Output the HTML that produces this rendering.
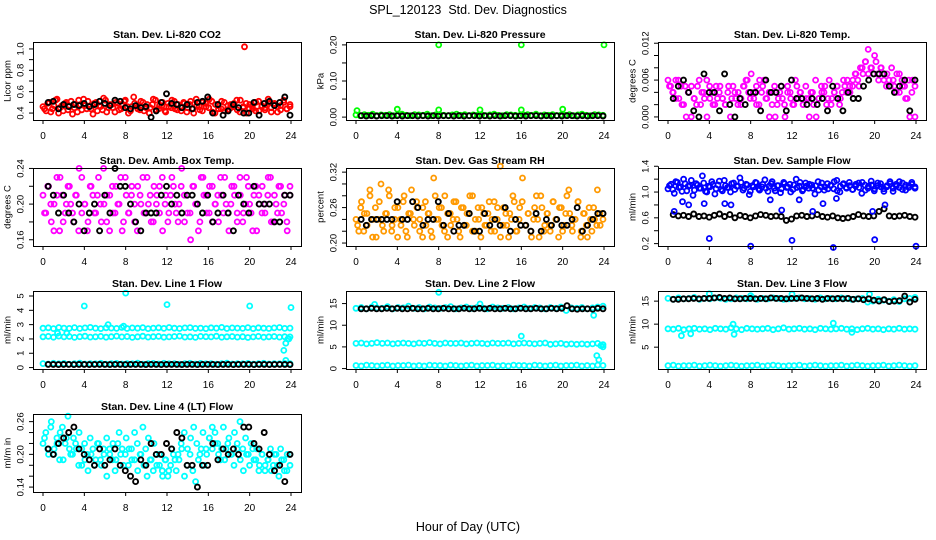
<!DOCTYPE html>
<html><head><meta charset="utf-8"><style>
html,body{margin:0;padding:0;background:#fff;}
svg{display:block;font-family:"Liberation Sans",Arial,sans-serif;}
</style></head><body>
<svg id="chart" width="936" height="540" viewBox="0 0 936 540">
<rect width="936" height="540" fill="#fff"/>
<text x="468" y="14" text-anchor="middle" font-size="12.5" style="white-space:pre">SPL_120123&#160; Std. Dev. Diagnostics</text>
<text x="468" y="531" text-anchor="middle" font-size="12.5">Hour of Day (UTC)</text>
</svg>
<script>
// ---- data ----
const hourTicks = [0,4,8,12,16,20,24];

const co2Red = [0.46,0.42,0.50,0.44,0.52,0.40,0.47,0.49,0.43,0.51,0.45,0.41,0.48,0.53,0.44,0.46,0.39,0.50,0.47,0.43,0.52,0.45,0.48,0.41,0.49,0.44,0.51,0.46,0.42,0.55,0.47,0.43,0.50,0.45,0.40,0.48,0.52,0.44,0.47,0.42,0.49,0.45,0.51,0.43,0.46,0.50,0.41,0.48,0.44,0.53,0.46,0.42,0.49,0.45,0.51,0.40,0.47,0.44,0.50,0.43,0.48,0.46,0.52,0.41,0.45,0.49,0.44,0.47,0.42,0.51,0.46,0.43,0.50,0.45,0.48,0.41,0.47,0.52,0.44,0.46];
const co2Red2 = [0.44,0.49,0.41,0.47,0.53,0.45,0.42,0.50,0.46,0.39,0.48,0.52,0.43,0.47,0.51,0.44,0.49,0.42,0.46,0.54,0.41,0.48,0.45,0.50,0.43,0.47,0.52,0.40,0.46,0.49,0.44,0.51,0.42,0.48,0.45,0.53,0.43,0.47,0.50,0.41,0.46,0.52,0.44,0.48,0.42,0.49,0.45,0.51,0.40,0.47,0.43,0.50,0.46,0.53,0.41,0.48,0.44,0.51,0.42,0.47,0.45,0.49,0.43,0.52,0.46,0.40,0.48,0.44,0.50,0.42,0.47,0.45,0.53,0.41,0.49,0.46,0.43,0.50,0.44,0.48];
const co2Black = [0.50,0.51,0.44,0.48,0.46,0.48,0.47,0.49,0.46,0.48,0.51,0.49,0.47,0.52,0.51,0.45,0.44,0.47,0.45,0.46,0.36,0.42,0.50,0.58,0.49,0.48,0.45,0.48,0.44,0.50,0.51,0.55,0.40,0.48,0.38,0.42,0.48,0.45,0.40,0.40,0.50,0.38,0.49,0.51,0.47,0.50,0.55,0.38];
const co2OutT = [19.5];
const co2OutV = [1.02];

const presGreen = [0.006,0.004,0.007,0.005,0.008,0.004,0.006,0.005,0.007,0.004,0.006,0.008,0.005,0.004,0.007,0.006,0.005,0.008,0.004,0.006,0.007,0.005,0.004,0.006,0.008,0.005,0.007,0.004,0.006,0.005,0.007,0.004,0.006,0.008,0.005,0.004,0.007,0.006,0.005,0.004,0.006,0.007,0.005,0.008,0.004,0.006,0.005,0.007,0.004,0.006,0.005,0.007,0.004,0.006,0.008,0.005,0.004,0.007,0.006,0.005];
const presBlack = [0.004,0.003,0.004,0.003,0.004,0.004,0.003,0.004,0.003,0.004,0.004,0.003,0.004,0.003,0.004,0.003,0.004,0.004,0.003,0.004,0.003,0.004,0.004,0.003,0.004,0.003,0.004,0.003,0.004,0.004,0.003,0.004,0.003,0.004,0.004,0.003,0.004,0.003,0.004,0.003,0.004,0.004,0.003,0.004,0.003,0.004,0.004,0.003];
const presSpikeT = [0.1,4,8,12,16,20,8,16,24];
const presSpikeV = [0.018,0.022,0.020,0.020,0.020,0.022,0.200,0.200,0.200];

const tempMag = [0.006,0.005,0.004,0.003,0.006,0.005,0.002,0.000,0.004,0.005,0.003,0.002,0.006,0.004,0.003,0.000,0.005,0.004,0.002,0.003,0.005,0.003,0.002,0.004,0.000,0.005,0.003,0.004,0.002,0.005,0.006,0.004,0.007,0.003,0.005,0.002,0.004,0.006,0.003,0.000,0.004,0.005,0.002,0.004,0.003,0.000,0.005,0.004,0.002,0.006,0.003,0.004,0.002,0.005,0.003,0.004,0.002,0.000,0.003,0.005,0.004,0.002,0.006,0.003,0.004,0.005,0.002,0.004,0.005,0.006,0.004,0.005,0.007,0.006,0.008,0.007,0.009,0.011,0.008,0.007,0.009,0.006,0.008,0.007,0.005,0.006,0.008,0.005,0.007,0.004,0.006,0.005,0.003,0.000,0.006,0.005];
const tempMag2 = [0.005,0.004,0.006,0.003,0.002,0.005,0.004,0.000,0.003,0.005,0.002,0.004,0.006,0.003,0.002,0.005,0.004,0.003,0.002,0.005,0.003,0.004,0.002,0.003,0.005,0.006,0.003,0.004,0.002,0.006,0.005,0.003,0.004,0.002,0.000,0.003,0.005,0.002,0.004,0.003,0.002,0.005,0.004,0.002,0.003,0.000,0.004,0.006,0.003,0.004,0.005,0.003,0.002,0.004,0.005,0.003,0.006,0.004,0.005,0.006,0.007,0.005,0.008,0.009,0.007,0.008,0.010,0.007,0.008,0.006,0.007,0.005,0.006,0.004,0.007,0.005,0.003,0.006,0.004,0.000];
const tempBlack = [0.003,0.005,0.006,0.004,0.001,0.000,0.007,0.004,0.004,0.001,0.007,0.002,0.000,0.003,0.002,0.004,0.004,0.001,0.006,0.004,0.004,0.005,0.001,0.006,0.003,0.003,0.002,0.003,0.002,0.003,0.001,0.005,0.003,0.001,0.004,0.003,0.003,0.005,0.006,0.007,0.007,0.007,0.005,0.004,0.005,0.006,0.001,0.006];

const ambMag = [0.21,0.19,0.22,0.18,0.20,0.23,0.17,0.21,0.19,0.22,0.20,0.18,0.21,0.24,0.19,0.20,0.17,0.22,0.21,0.19,0.23,0.18,0.20,0.21,0.17,0.22,0.19,0.20,0.23,0.18,0.21,0.19,0.22,0.20,0.17,0.21,0.23,0.19,0.20,0.18,0.22,0.21,0.19,0.23,0.20,0.18,0.21,0.22,0.19,0.20,0.24,0.18,0.21,0.19,0.22,0.20,0.17,0.23,0.21,0.19,0.22,0.18,0.20,0.21,0.23,0.19,0.20,0.17,0.22,0.21,0.19,0.23,0.18,0.20,0.22,0.19,0.21,0.17,0.20,0.22,0.19,0.21,0.23,0.18,0.20,0.22,0.19,0.21,0.17,0.22];
const ambMag2 = [0.19,0.22,0.20,0.17,0.21,0.23,0.18,0.20,0.22,0.19,0.21,0.17,0.23,0.20,0.18,0.22,0.19,0.21,0.20,0.24,0.18,0.21,0.19,0.22,0.20,0.17,0.23,0.19,0.21,0.18,0.22,0.20,0.19,0.23,0.21,0.18,0.20,0.22,0.17,0.21,0.19,0.23,0.20,0.18,0.22,0.21,0.19,0.16,0.22,0.20,0.18,0.23,0.21,0.19,0.22,0.20,0.18,0.21,0.23,0.19,0.20,0.22,0.18,0.21,0.19,0.23,0.20,0.17,0.22,0.21,0.19,0.20,0.23,0.18,0.21,0.19,0.22,0.20,0.18,0.21];
const ambBlack = [0.22,0.21,0.19,0.21,0.19,0.18,0.20,0.17,0.19,0.20,0.17,0.21,0.19,0.24,0.22,0.22,0.20,0.18,0.17,0.19,0.19,0.19,0.21,0.22,0.20,0.21,0.19,0.21,0.21,0.20,0.19,0.21,0.18,0.19,0.21,0.19,0.17,0.21,0.20,0.19,0.22,0.20,0.20,0.20,0.18,0.18,0.21,0.21];

const rhOrange = [0.24,0.22,0.27,0.25,0.23,0.29,0.21,0.26,0.24,0.30,0.22,0.25,0.28,0.23,0.26,0.21,0.24,0.27,0.22,0.25,0.29,0.23,0.26,0.24,0.21,0.27,0.25,0.22,0.31,0.24,0.26,0.23,0.28,0.21,0.25,0.24,0.27,0.22,0.26,0.23,0.25,0.28,0.22,0.24,0.26,0.21,0.25,0.23,0.27,0.24,0.22,0.26,0.33,0.23,0.25,0.21,0.24,0.27,0.22,0.26,0.31,0.23,0.25,0.22,0.24,0.28,0.21,0.26,0.23,0.25,0.22,0.27,0.24,0.21,0.26,0.23,0.28,0.25,0.22,0.24,0.27,0.21,0.25,0.23,0.26,0.22,0.24,0.29,0.23,0.25];
const rhOrange2 = [0.23,0.26,0.22,0.25,0.28,0.24,0.21,0.27,0.23,0.25,0.29,0.22,0.24,0.26,0.23,0.28,0.21,0.25,0.24,0.27,0.22,0.26,0.23,0.25,0.21,0.28,0.24,0.26,0.22,0.25,0.23,0.27,0.24,0.21,0.26,0.23,0.25,0.28,0.22,0.24,0.26,0.23,0.25,0.22,0.27,0.24,0.21,0.26,0.23,0.25,0.28,0.22,0.24,0.27,0.23,0.25,0.21,0.26,0.24,0.28,0.22,0.25,0.23,0.27,0.24,0.26,0.22,0.25,0.29,0.23,0.24,0.27,0.22,0.25,0.21,0.24,0.26,0.23,0.25,0.24];
const rhBlack = [0.24,0.23,0.24,0.24,0.24,0.24,0.24,0.27,0.24,0.24,0.27,0.26,0.23,0.24,0.24,0.27,0.23,0.25,0.22,0.23,0.23,0.25,0.22,0.22,0.25,0.23,0.24,0.23,0.26,0.22,0.24,0.23,0.23,0.22,0.25,0.22,0.24,0.23,0.24,0.23,0.23,0.24,0.26,0.22,0.23,0.24,0.25,0.25];

const flowBlue = [1.05,1.12,0.98,1.15,1.08,1.20,1.02,1.10,0.95,1.13,1.06,1.25,1.01,1.09,1.16,0.97,1.11,1.04,1.18,1.07,1.00,1.14,1.09,1.22,1.03,1.12,0.96,1.10,1.15,1.05,1.08,1.19,1.01,1.13,1.06,1.10,0.99,1.15,1.07,1.12,1.04,1.20,1.09,1.02,1.14,1.06,1.11,0.97,1.16,1.08,1.03,1.13,1.10,1.05,1.18,1.00,1.12,1.07,1.15,1.04,1.09,1.14,0.98,1.11,1.06,1.17,1.02,1.10,1.13,1.05,1.08,1.16,1.01,1.12,1.07,1.14,1.03,1.10,1.15,1.06];
const flowBlue2 = [1.10,1.04,1.16,1.07,1.01,1.13,1.09,1.18,1.03,1.11,1.06,1.14,1.00,1.08,1.12,1.05,1.17,1.02,1.10,1.07,1.13,1.04,1.09,1.15,1.06,1.11,1.01,1.08,1.14,1.03,1.12,1.06,1.09,1.16,1.02,1.10,1.05,1.13,1.08,1.00,1.11,1.07,1.15,1.04,1.09,1.12,1.06,1.10,1.03,1.14,1.08,1.05,1.11,1.16,1.02,1.09,1.13,1.06,1.10,1.04,1.12,1.07,1.15,1.03,1.09,1.11,1.05,1.14,1.08,1.01,1.10,1.13,1.06,1.09,1.16,1.04,1.11,1.07,1.12,1.08];
const flowBlack = [0.65,0.63,0.64,0.62,0.66,0.62,0.63,0.61,0.64,0.66,0.62,0.65,0.60,0.64,0.62,0.60,0.63,0.65,0.64,0.62,0.63,0.62,0.56,0.58,0.63,0.64,0.62,0.63,0.65,0.62,0.61,0.63,0.60,0.59,0.60,0.62,0.65,0.63,0.62,0.63,0.70,0.74,0.63,0.62,0.63,0.64,0.62,0.61];
const flowOutT = [0.6,1.4,2.0,3.5,4,5.5,6.1,8,9.9,11,12,12.7,14,15,16,16.3,19.8,20,21,24];
const flowOutV = [0.70,0.85,0.80,0.82,0.28,0.82,0.80,0.16,0.88,0.72,0.25,0.88,0.70,0.82,0.14,0.90,0.70,0.26,0.80,0.16];

const l1Top = [2.75,2.78,2.72,2.80,2.76,2.74,2.79,2.73,2.77,2.81,2.75,2.72,2.78,2.76,2.74,2.80,2.73,2.77,2.75,2.79,2.72,2.76,2.78,2.74,2.80,2.75,2.73,2.77,2.79,2.74,2.76,2.72,2.78,2.75,2.81,2.73,2.77,2.76,2.74,2.79,2.72,2.78,2.75,2.73,2.77,2.80,2.74,2.76];
const l1Mid = [2.15,2.18,2.12,2.20,2.14,2.17,2.11,2.16,2.19,2.13,2.15,2.18,2.12,2.16,2.20,2.14,2.17,2.11,2.15,2.19,2.13,2.16,2.18,2.12,2.14,2.17,2.20,2.13,2.15,2.11,2.18,2.16,2.14,2.19,2.12,2.15,2.17,2.13,2.16,2.10,2.14,2.18,2.12,2.15,2.17,2.13,2.16,2.14];
const l1Low = [0.28,0.25,0.30,0.26,0.29,0.24,0.27,0.31,0.25,0.28,0.26,0.30,0.24,0.27,0.29,0.25,0.28,0.26,0.31,0.24,0.27,0.29,0.25,0.30,0.26,0.28,0.24,0.27,0.30,0.25,0.29,0.26,0.28,0.24,0.27,0.31,0.25,0.28,0.26,0.29,0.24,0.27,0.30,0.25,0.28,0.26,0.29,0.27];
const l1Black = [0.22,0.22,0.21,0.22,0.22,0.21,0.22,0.22,0.21,0.22,0.22,0.22,0.21,0.22,0.22,0.21,0.22,0.22,0.22,0.21,0.22,0.22,0.21,0.22,0.22,0.22,0.21,0.22,0.22,0.21,0.22,0.22,0.22,0.21,0.22,0.22,0.21,0.22,0.22,0.22,0.21,0.22,0.22,0.21,0.22,0.22,0.22,0.21];
const l1OutT = [4,8,12,20,24,6.3,1.4,2.3,7.8,23.3,23.5,23.7,23.8,23.5];
const l1OutV = [4.3,5.2,4.4,4.3,4.2,3.0,2.4,2.4,2.9,1.2,1.7,2.0,2.0,0.5];

const l2Top = [13.9,14.1,13.8,14.2,14.0,13.9,14.3,13.8,14.1,14.0,14.4,13.9,14.1,13.8,14.2,14.0,13.9,14.1,14.3,13.8,14.0,14.2,13.9,14.1,14.0,13.8,14.2,14.0,13.9,14.1,13.8,14.0,14.2,13.9,14.1,14.0,13.8,14.1,13.9,14.2,13.4,14.0,13.9,14.1,13.8,14.0,14.2,14.4];
const l2Mid = [5.8,5.9,5.7,5.8,6.0,5.8,5.9,5.7,5.8,5.9,5.8,5.7,5.9,5.8,6.0,5.8,5.7,5.9,5.8,5.8,5.9,5.7,5.8,5.9,5.8,5.7,5.9,5.8,5.8,5.9,5.7,5.8,5.9,5.8,5.7,5.8,5.9,5.6,5.7,5.8,5.6,5.7,5.6,5.7,5.6,5.7,5.8,5.5];
const l2Low = [0.7,0.6,0.8,0.7,0.6,0.7,0.8,0.6,0.7,0.7,0.8,0.6,0.7,0.6,0.8,0.7,0.7,0.6,0.8,0.7,0.6,0.7,0.8,0.6,0.7,0.7,0.8,0.6,0.7,0.6,0.8,0.7,0.7,0.6,0.8,0.7,0.6,0.7,0.8,0.6,0.7,0.7,0.8,0.6,0.7,0.6,0.8,0.7];
const l2Black = [13.8,13.8,13.9,13.8,13.8,13.9,13.8,13.9,13.8,13.8,13.9,13.8,13.8,13.9,13.8,13.8,13.9,13.8,13.8,13.8,13.9,13.8,13.8,13.9,13.8,13.9,13.8,13.8,13.9,13.8,13.8,13.9,13.8,13.8,13.9,13.8,13.8,13.9,13.8,13.9,14.5,13.8,13.7,13.8,13.8,13.7,13.9,13.8];
const l2OutT = [8,12,16,1.8,23.0,23.3,23.5,23.7,23.9];
const l2OutV = [17.6,14.9,7.5,14.8,12.3,3.0,2.0,5.3,5.0];

const l3Top = [15.6,15.4,15.7,15.5,15.6,15.8,15.4,15.6,15.5,15.7,15.6,15.4,15.5,15.7,15.6,15.5,15.8,15.4,15.6,15.5,15.7,15.6,15.4,15.5,15.6,15.7,15.5,15.6,15.4,15.7,15.5,15.6,15.5,15.7,15.6,15.4,15.5,15.6,14.8,15.0,15.4,15.2,15.0,15.3,14.9,15.5,15.6,15.8];
const l3Mid = [9.0,8.9,9.1,8.8,9.0,9.1,8.9,9.0,8.8,9.1,9.0,8.9,9.2,9.0,8.8,9.1,9.0,8.9,9.0,9.1,8.8,9.0,9.2,8.9,9.0,9.1,8.9,9.0,8.8,9.1,9.0,8.9,9.0,9.1,8.9,9.0,8.8,9.0,9.1,8.9,9.0,8.8,9.0,8.9,9.1,8.9,9.0,8.9];
const l3Low = [1.0,1.1,0.9,1.0,1.0,1.1,0.9,1.0,1.1,1.0,0.9,1.0,1.1,1.0,0.9,1.0,1.0,1.1,0.9,1.0,1.1,1.0,0.9,1.0,1.0,1.1,0.9,1.0,1.1,1.0,0.9,1.0,1.0,1.1,0.9,1.0,1.1,1.0,0.9,1.0,1.0,1.1,0.9,1.0,1.1,1.0,0.9,1.0];
const l3Black = [15.4,15.4,15.5,15.5,15.6,15.5,15.6,15.6,15.7,15.8,15.6,15.7,15.5,15.5,15.6,15.6,15.5,15.6,15.5,15.7,15.6,15.6,15.5,15.6,15.6,15.7,15.6,15.5,15.6,15.4,15.6,15.5,15.6,15.5,15.6,15.4,15.5,15.3,15.5,15.2,15.0,15.3,14.9,15.0,15.1,16.1,14.8,15.4];
const l3OutT = [1.3,2.2,4,6.3,6.4,8,12,16,17.8,19.5];
const l3OutV = [7.5,7.9,16.6,10.0,7.8,16.2,16.5,10.2,8.2,16.5];

const l4Cyan = [0.22,0.24,0.20,0.26,0.21,0.23,0.19,0.25,0.22,0.27,0.20,0.23,0.21,0.24,0.18,0.22,0.20,0.23,0.21,0.19,0.22,0.18,0.20,0.16,0.21,0.19,0.17,0.22,0.20,0.18,0.23,0.21,0.19,0.24,0.22,0.20,0.25,0.21,0.23,0.19,0.22,0.18,0.20,0.17,0.19,0.16,0.18,0.20,0.17,0.19,0.21,0.16,0.18,0.20,0.17,0.15,0.19,0.21,0.18,0.20,0.23,0.21,0.24,0.22,0.19,0.25,0.21,0.23,0.20,0.24,0.22,0.26,0.21,0.23,0.20,0.22,0.19,0.21,0.18,0.20,0.17,0.19,0.21,0.18,0.20,0.16,0.19,0.17,0.20,0.18];
const l4Cyan2 = [0.23,0.21,0.25,0.20,0.22,0.24,0.19,0.23,0.21,0.20,0.22,0.18,0.21,0.19,0.17,0.20,0.18,0.22,0.19,0.21,0.23,0.20,0.22,0.19,0.24,0.21,0.20,0.18,0.21,0.19,0.17,0.20,0.18,0.16,0.19,0.17,0.20,0.18,0.16,0.19,0.17,0.21,0.19,0.20,0.22,0.24,0.21,0.23,0.25,0.22,0.20,0.24,0.21,0.23,0.25,0.22,0.20,0.21,0.19,0.22,0.20,0.18,0.21,0.19,0.17,0.20,0.18,0.21,0.19,0.17,0.20,0.18,0.19,0.17,0.20,0.18,0.21,0.19,0.17,0.20];
const l4Black = [0.21,0.20,0.22,0.23,0.24,0.25,0.21,0.20,0.19,0.18,0.21,0.18,0.19,0.21,0.18,0.17,0.16,0.15,0.19,0.18,0.22,0.20,0.20,0.22,0.21,0.24,0.23,0.18,0.18,0.14,0.18,0.18,0.22,0.19,0.21,0.20,0.21,0.20,0.25,0.25,0.22,0.21,0.24,0.20,0.17,0.18,0.15,0.20];

// ---- layout ----
const colLeft = [33, 346, 658];
const rowTop = [42, 168, 291, 414];
const boxW = 268, boxH = 78;
const svg = document.getElementById('chart');
const NS = 'http://www.w3.org/2000/svg';

function mk(tag, attrs, parent) {
  const e = document.createElementNS(NS, tag);
  for (const k in attrs) e.setAttribute(k, attrs[k]);
  (parent || svg).appendChild(e);
  return e;
}
function spread(n, offset) { const a = []; for (let i = 0; i < n; i++) a.push(offset + i * (23.9 - offset) / (n - 1)); return a; }

const panels = [
  {key:'co2', title:'Stan. Dev. Li-820 CO2', ylab:'Licor ppm', r:0, c:0, dom:[0.335,1.065], ticks:[0.4,0.5,0.6,0.7,0.8,0.9,1.0], labels:['0.4','','0.6','','0.8','','1.0'],
   series:[{col:'#ff0000', v:co2Red, t:null, off:0.0},{col:'#ff0000', v:co2Red2, t:null, off:0.15},{col:'#000', v:co2Black, t:null, off:0.5},{col:'#ff0000', v:co2OutV, t:co2OutT}]},
  {key:'pressure', title:'Stan. Dev. Li-820 Pressure', ylab:'kPa', r:0, c:1, dom:[-0.008,0.208], ticks:[0,0.05,0.10,0.15,0.20], labels:['0.00','','0.10','','0.20'],
   series:[{col:'#00ff00', v:presGreen, t:null, off:0.0},{col:'#000', v:presBlack, t:null, off:0.5},{col:'#00ff00', v:presSpikeV, t:presSpikeT}]},
  {key:'temp', title:'Stan. Dev. Li-820 Temp.', ylab:'degrees C', r:0, c:2, dom:[-0.0005,0.0122], ticks:[0,0.002,0.004,0.006,0.008,0.010,0.012], labels:['0.000','','','0.006','','','0.012'],
   series:[{col:'#ff00ff', v:tempMag, t:null, off:0.0},{col:'#ff00ff', v:tempMag2, t:null, off:0.15},{col:'#000', v:tempBlack, t:null, off:0.5}]},
  {key:'ambbox', title:'Stan. Dev. Amb. Box Temp.', ylab:'degrees C', r:1, c:0, dom:[0.153,0.2405], ticks:[0.16,0.18,0.20,0.22,0.24], labels:['0.16','','0.20','','0.24'],
   series:[{col:'#ff00ff', v:ambMag, t:null, off:0.0},{col:'#ff00ff', v:ambMag2, t:null, off:0.15},{col:'#000', v:ambBlack, t:null, off:0.5}]},
  {key:'rh', title:'Stan. Dev. Gas Stream RH', ylab:'percent', r:1, c:1, dom:[0.195,0.327], ticks:[0.20,0.22,0.24,0.26,0.28,0.30,0.32], labels:['0.20','','','0.26','','','0.32'],
   series:[{col:'#ff9900', v:rhOrange, t:null, off:0.0},{col:'#ff9900', v:rhOrange2, t:null, off:0.15},{col:'#000', v:rhBlack, t:null, off:0.5}]},
  {key:'sampleflow', title:'Stan. Dev. Sample Flow', ylab:'ml/min', r:1, c:2, dom:[0.163,1.373], ticks:[0.2,0.4,0.6,0.8,1.0,1.2,1.4], labels:['0.2','','0.6','','1.0','','1.4'],
   series:[{col:'#0000ff', v:flowBlue, t:null, off:0.0},{col:'#0000ff', v:flowBlue2, t:null, off:0.15},{col:'#000', v:flowBlack, t:null, off:0.5},{col:'#0000ff', v:flowOutV, t:flowOutT}]},
  {key:'line1', title:'Stan. Dev. Line 1 Flow', ylab:'ml/min', r:2, c:0, dom:[-0.1,5.35], ticks:[0,1,2,3,4,5], labels:['0','1','2','3','4','5'],
   series:[{col:'#00ffff', v:l1Top, t:null, off:0.0},{col:'#00ffff', v:l1Mid, t:null, off:0.0},{col:'#00ffff', v:l1Low, t:null, off:0.0},{col:'#00ffff', v:l1OutV, t:l1OutT},{col:'#000', v:l1Black, t:null, off:0.5}]},
  {key:'line2', title:'Stan. Dev. Line 2 Flow', ylab:'ml/min', r:2, c:1, dom:[-0.1,17.9], ticks:[0,5,10,15], labels:['0','5','10','15'],
   series:[{col:'#00ffff', v:l2Top, t:null, off:0.0},{col:'#00ffff', v:l2Mid, t:null, off:0.0},{col:'#00ffff', v:l2Low, t:null, off:0.0},{col:'#00ffff', v:l2OutV, t:l2OutT},{col:'#000', v:l2Black, t:null, off:0.5}]},
  {key:'line3', title:'Stan. Dev. Line 3 Flow', ylab:'ml/min', r:2, c:2, dom:[0.26,17.2], ticks:[5,10,15], labels:['5','10','15'],
   series:[{col:'#00ffff', v:l3Top, t:null, off:0.0},{col:'#00ffff', v:l3Mid, t:null, off:0.0},{col:'#00ffff', v:l3Low, t:null, off:0.0},{col:'#00ffff', v:l3OutV, t:l3OutT},{col:'#000', v:l3Black, t:null, off:0.5}]},
  {key:'line4', title:'Stan. Dev. Line 4 (LT) Flow', ylab:'ml/m in', r:3, c:0, dom:[0.131,0.274], ticks:[0.14,0.16,0.18,0.20,0.22,0.24,0.26], labels:['0.14','','','0.20','','','0.26'],
   series:[{col:'#00ffff', v:l4Cyan, t:null, off:0.0},{col:'#00ffff', v:l4Cyan2, t:null, off:0.15},{col:'#000', v:l4Black, t:null, off:0.5}]}
];

panels.forEach(p => {
  const L = colLeft[p.c], T = rowTop[p.r], B = T + boxH, R = L + boxW;
  const xS = h => L + 10 + h * (248 / 24);
  const yS = v => B - (v - p.dom[0]) / (p.dom[1] - p.dom[0]) * boxH;
  const g = mk('g', {});
  
  

  const title = mk('text', {x: L + boxW / 2, y: T - 4, 'text-anchor': 'middle', 'font-size': '10.5', 'font-weight': 'bold'}, g);
  title.textContent = p.title;
  
  

  const pts = mk('g', {fill: 'none'}, g);
  
  
  p.series.forEach(s => {
    const times = s.t ? s.t : spread(s.v.length, s.off);
    const sw = s.col === '#000' ? 1.9 : 1.8;
    s.v.forEach((v, i) => {
      const c = mk('circle', {cx: xS(times[i]).toFixed(1), cy: yS(v).toFixed(1), r: 2.5, stroke: s.col, 'stroke-width': sw}, pts);
      
      
    });
  });

  const box = mk('rect', {x: L + 0.5, y: T + 0.5, width: boxW, height: boxH, fill: 'none', stroke: '#000', 'stroke-width': '1'}, g);
  
  

  const xa = mk('g', {}, g);
  
  
  mk('line', {x1: xS(0), x2: xS(24), y1: B + 0.5, y2: B + 0.5, stroke: '#000'}, xa);
  hourTicks.forEach(h => {
    mk('line', {x1: xS(h), x2: xS(h), y1: B, y2: B + 4, stroke: '#000'}, xa);
    const t = mk('text', {x: xS(h), y: B + 19, 'text-anchor': 'middle', 'font-size': '10'}, xa);
    t.textContent = h;
  });

  const ya = mk('g', {}, g);
  
  
  mk('line', {x1: L + 0.5, x2: L + 0.5, y1: yS(p.ticks[0]), y2: yS(p.ticks[p.ticks.length - 1]), stroke: '#000'}, ya);
  p.ticks.forEach((v, i) => {
    const y = yS(v);
    mk('line', {x1: L - 4, x2: L, y1: y, y2: y, stroke: '#000'}, ya);
    if (p.labels[i]) {
      const t = mk('text', {x: L - 12, y: y, 'text-anchor': 'middle', 'font-size': '9.5', transform: `rotate(-90 ${L - 12} ${y})`, 'dominant-baseline': 'middle'}, ya);
      t.textContent = p.labels[i];
    }
  });
  const yt = mk('text', {x: L - 25, y: T + boxH / 2, 'text-anchor': 'middle', 'font-size': '9.5', transform: `rotate(-90 ${L - 25} ${T + boxH / 2})`, 'dominant-baseline': 'middle'}, g);
  yt.textContent = p.ylab;
  
  
});
</script>
</body></html>
